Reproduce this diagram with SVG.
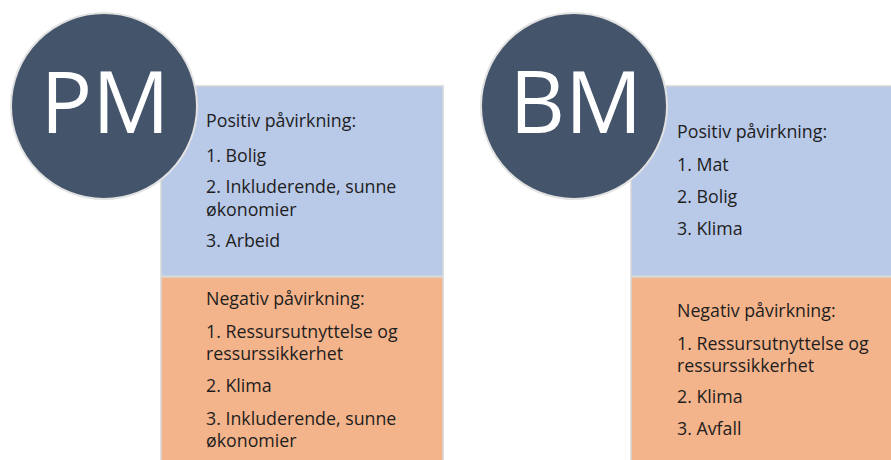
<svg xmlns="http://www.w3.org/2000/svg" width="891" height="460" viewBox="0 0 891 460">
<style>
.pos{fill:#B9C9E8;stroke:#D6D6D6;stroke-width:1.5}
.neg{fill:#F4B48B;stroke:#D6D6D6;stroke-width:1.5}
.circ{fill:#44546A;stroke:#E2E2E2;stroke-width:2}
.big{font-family:"Open Sans","Liberation Sans",sans-serif;font-size:86px;fill:#FFFFFF;text-anchor:middle}
.t{font-family:"Open Sans","Liberation Sans",sans-serif;font-size:17.8px;fill:#1E1E1E}
</style>
<rect width="891" height="460" fill="#FFFFFF"/>
<g id="pm-box">
<rect class="pos" x="161" y="86" width="282" height="190"/>
<rect class="neg" x="161" y="277" width="282" height="190"/>
<text class="t" x="206" y="127">Positiv påvirkning:</text>
<text class="t" x="206" y="162">1. Bolig</text>
<text class="t" x="206" y="193">2. Inkluderende, sunne</text>
<text class="t" x="206" y="216">økonomier</text>
<text class="t" x="206" y="247">3. Arbeid</text>
<text class="t" x="206" y="305">Negativ påvirkning:</text>
<text class="t" x="206" y="338">1. Ressursutnyttelse og</text>
<text class="t" x="206" y="360">ressurssikkerhet</text>
<text class="t" x="206" y="392">2. Klima</text>
<text class="t" x="206" y="425">3. Inkluderende, sunne</text>
<text class="t" x="206" y="447">økonomier</text>
</g>
<g id="pm-circle">
<circle class="circ" cx="104" cy="106" r="93"/>
<text class="big" x="105" y="133">PM</text>
</g>
<g id="bm-box">
<rect class="pos" x="631" y="86" width="270" height="190"/>
<rect class="neg" x="631" y="277" width="270" height="190"/>
<text class="t" x="677" y="138">Positiv påvirkning:</text>
<text class="t" x="677" y="171">1. Mat</text>
<text class="t" x="677" y="203">2. Bolig</text>
<text class="t" x="677" y="235">3. Klima</text>
<text class="t" x="677" y="317">Negativ påvirkning:</text>
<text class="t" x="677" y="350">1. Ressursutnyttelse og</text>
<text class="t" x="677" y="372">ressurssikkerhet</text>
<text class="t" x="677" y="403">2. Klima</text>
<text class="t" x="677" y="435">3. Avfall</text>
</g>
<g id="bm-circle">
<circle class="circ" cx="574" cy="106" r="93"/>
<text class="big" x="576" y="133">BM</text>
</g>
<g id="connectors"/>
</svg>
